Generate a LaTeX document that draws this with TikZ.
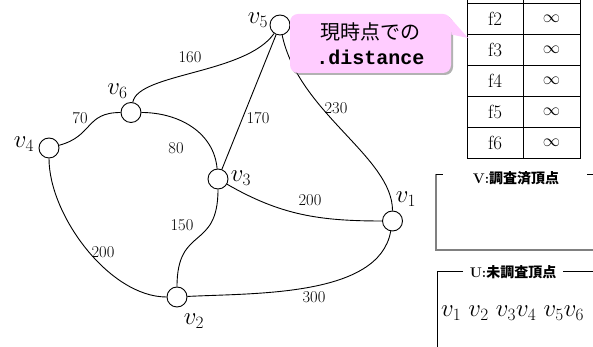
\documentclass[tikz,border=0pt]{standalone}
\usepackage{amsmath}
\usepackage{fontspec}
\usepackage{xcolor}
\usepackage{tikz}
\usetikzlibrary{shadows}
\newfontfamily\jfont{Noto Sans CJK JP}
\newfontfamily\memofont{Liberation Mono}
\definecolor{memopink}{RGB}{255,204,255}
\definecolor{framegray}{RGB}{128,128,128}

\begin{document}
\begin{tikzpicture}[
    x=1pt, y=1pt, line width=0.9pt,
    vtx/.style={draw, circle, minimum size=20pt, inner sep=0pt, fill=white},
    vlab/.style={font=\fontsize{24}{26}\selectfont, inner sep=0pt},
    wt/.style={font=\fontsize{16.5}{18}\selectfont, inner sep=1pt},
    cell/.style={font=\fontsize{19}{21}\selectfont, inner sep=0pt},
    setname/.style={font=\fontsize{14}{16}\selectfont\bfseries, inner sep=0pt},
    memo/.style={fill=memopink, rounded corners=8pt, minimum width=161pt,
        minimum height=59pt, align=center, font=\fontsize{20}{25}\selectfont,
        drop shadow={shadow xshift=2pt, shadow yshift=-2pt, opacity=0.5, fill=black!60}}
]
\useasboundingbox (0,0) rectangle (593,347);

% graph
\node[vtx] (v1) at (392.5,126) {};
\node[vtx] (v2) at (177,50) {};
\node[vtx] (v3) at (218,168) {};
\node[vtx] (v4) at (49,199) {};
\node[vtx] (v5) at (280,322) {};
\node[vtx] (v6) at (131,234.5) {};

\node[vlab] (l1) at (406,148) {$v_1$};
\node[vlab] (l2) at (194,26) {$v_2$};
\node[vlab] (l3) at (241,169) {$v_3$};
\node[vlab] (l4) at (24,202.5) {$v_4$};
\node[vlab] (l5) at (258,326.5) {$v_5$};
\node[vlab] (l6) at (117.5,256) {$v_6$};

\draw (v4) to[out=15, in=180, looseness=1.3] (v6);
\draw (v6) .. controls +(80:40) and +(235:60) .. (v5);
\draw (v6) to[out=0, in=95] (v3);
\draw (v5) -- (v3);
\draw (v5) .. controls +(-78:90) and +(90:64) .. (v1);
\draw (v3) to[out=-30, in=180] (v1);
\draw (v3) to[out=-90, in=90, looseness=1.5] (v2);
\draw (v4) to[out=-90, in=180, looseness=0.8] (v2);
\draw (v2) to[out=3, in=-100, looseness=0.8] (v1);

\node[wt] (w56) at (190,290) {160};
\node[wt] (w46) at (80,229) {70};
\node[wt] (w36) at (176,199) {80};
\node[wt] (w35) at (258,229) {170};
\node[wt] (w15) at (336,239) {230};
\node[wt] (w13) at (310,147) {200};
\node[wt] (w23) at (182,122) {150};
\node[wt] (w24) at (103,95) {200};
\node[wt] (w12) at (314,50) {300};

% distance table
\draw (467,347) -- (467,189) -- (580,189) -- (580,347);
\draw (523,347) -- (523,189);
\foreach \r in {0,...,4}
    \draw (467,344-31*\r) -- (580,344-31*\r);
\foreach \k in {2,...,6} {
    \node[cell] (f\k) at (495,328.5-31*\k+62) {f\k};
    \node[cell, font=\fontsize{16}{18}\selectfont] (d\k) at (551.5,328.5-31*\k+62) {$\infty$};
}

% callout
\coordinate (tip) at (468,309);
\node[memo] (memo) at (370.5,303.5)
    {{\jfont 現時点での}\\{\memofont\bfseries .distance}};
\fill[memopink] ([xshift=-1.5pt,yshift=-4pt]memo.north east) -- (tip)
    -- ([yshift=-21pt]memo.north east) -- cycle;

% V and U
\draw[framegray, line width=1.4pt] (436,173) -- (436,97) -- (593,97);
\draw (436,173) -- (443,173);
\draw (587,173) -- (593,173);
\node[setname] (vset) at (516,169) {V:{\jfont 調査済頂点}};

\draw[line width=0.8pt] (463,76) -- (437,76) -- (437,0);
\draw[line width=0.8pt] (563,76) -- (593,76);
\node[setname] (uset) at (513,75) {U:{\jfont 未調査頂点}};
\node[vlab] (uall) at (512.5,34) {$v_1\ v_2\ v_3v_4\ v_5v_6$};
\end{tikzpicture}
\end{document}
